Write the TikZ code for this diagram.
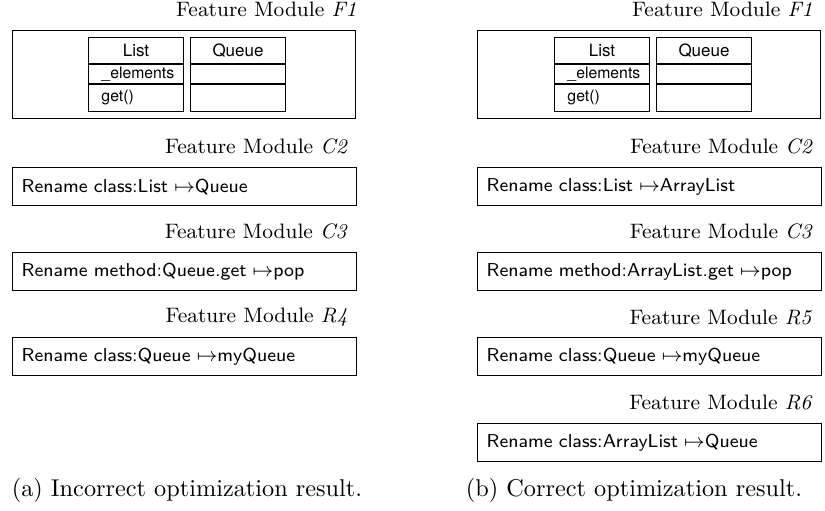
\documentclass[tikz,border=0pt]{standalone}
\usepackage{fontspec}
\newfontfamily\helv{TeX Gyre Heros}
\usetikzlibrary{positioning, calc}

\tikzset{
  modtitle/.style={anchor=east, inner sep=0pt, font=\fontsize{8.6}{10}\selectfont},
  modbox/.style={draw, line width=0.55pt, anchor=north west, minimum width=141.7pt, minimum height=15.7pt,
    text width=134.3pt, inner xsep=3.7pt, align=left, font=\fontsize{7.7}{9}\sffamily},
  featbox/.style={draw, line width=0.55pt, anchor=north west, minimum width=141.3pt, minimum height=36.3pt, inner sep=0pt},
  clsbox/.style={draw, line width=0.45pt, anchor=north west, minimum width=39.1pt, minimum height=30.5pt, inner sep=0pt},
  clsname/.style={inner sep=0pt, font=\helv\fontsize{7}{8}\selectfont},
  clsitem/.style={anchor=west, inner sep=0pt, font=\helv\fontsize{6.5}{8}\selectfont},
  subcap/.style={inner sep=0pt, font=\normalsize}
}

\begin{document}
\begin{tikzpicture}[x=0.412pt, y=-0.412pt]
\useasboundingbox (0,0) rectangle (825,510);

% (a) left panel
\node[modtitle] (fa-t) at (357,9) {Feature Module \textit{F1}};
\node[featbox] (fa) at (12,30) {};
\node[clsbox] (lista) at (88,37) {};
\node[clsbox] (queuea) at (190,37) {};
\foreach \c in {lista, queuea} {
  \draw[line width=0.45pt] ($(\c.north west)+(0,27)$) -- ($(\c.north east)+(0,27)$);
  \draw[line width=0.45pt] ($(\c.north west)+(0,47)$) -- ($(\c.north east)+(0,47)$);
}
\node[clsname] (lista-n) at ($(lista.north)+(0,13.5)$) {List};
\node[clsitem] (lista-a) at ($(lista.north west)+(13,37)$) {\_elements};
\node[clsitem] (lista-m) at ($(lista.north west)+(13,60)$) {get()};
\node[clsname] (queuea-n) at ($(queuea.north)+(0,13.5)$) {Queue};

\node[modtitle] (c2a-t) at (348,146) {Feature Module \textit{C2}};
\node[modbox] (c2a) at (12,167) {Rename class:List $\mapsto$Queue};
\node[modtitle] (c3a-t) at (348,231) {Feature Module \textit{C3}};
\node[modbox] (c3a) at (12,252) {Rename method:Queue.get $\mapsto$pop};
\node[modtitle] (r4a-t) at (348,317) {Feature Module \textit{R4}};
\node[modbox] (r4a) at (12,337) {Rename class:Queue $\mapsto$myQueue};

\node[subcap] (capa) at (187,490) {(a) Incorrect optimization result.};

% (b) right panel
\node[modtitle] (fb-t) at (813,9) {Feature Module \textit{F1}};
\node[featbox] (fb) at (477,30) {};
\node[clsbox] (listb) at (554,37) {};
\node[clsbox] (queueb) at (656,37) {};
\foreach \c in {listb, queueb} {
  \draw[line width=0.45pt] ($(\c.north west)+(0,27)$) -- ($(\c.north east)+(0,27)$);
  \draw[line width=0.45pt] ($(\c.north west)+(0,47)$) -- ($(\c.north east)+(0,47)$);
}
\node[clsname] (listb-n) at ($(listb.north)+(0,13.5)$) {List};
\node[clsitem] (listb-a) at ($(listb.north west)+(13,37)$) {\_elements};
\node[clsitem] (listb-m) at ($(listb.north west)+(13,60)$) {get()};
\node[clsname] (queueb-n) at ($(queueb.north)+(0,13.5)$) {Queue};

\node[modtitle] (c2b-t) at (813,146) {Feature Module \textit{C2}};
\node[modbox] (c2b) at (477,167) {Rename class:List $\mapsto$ArrayList};
\node[modtitle] (c3b-t) at (813,231) {Feature Module \textit{C3}};
\node[modbox] (c3b) at (477,252) {Rename method:ArrayList.get $\mapsto$pop};
\node[modtitle] (r5b-t) at (813,317) {Feature Module \textit{R5}};
\node[modbox] (r5b) at (477,337) {Rename class:Queue $\mapsto$myQueue};
\node[modtitle] (r6b-t) at (813,402) {Feature Module \textit{R6}};
\node[modbox] (r6b) at (477,423) {Rename class:ArrayList $\mapsto$Queue};

\node[subcap] (capb) at (634,490) {(b) Correct optimization result.};
\end{tikzpicture}
\end{document}
